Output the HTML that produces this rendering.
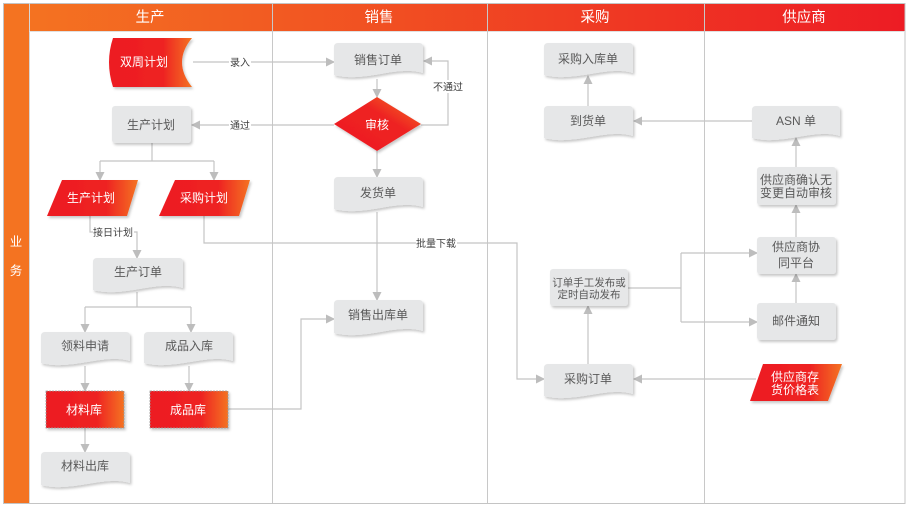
<!DOCTYPE html>
<html><head><meta charset="utf-8">
<style>
html,body{margin:0;padding:0;background:#fff;}
svg{display:block;}
text{font-family:"Liberation Sans","Noto Sans CJK SC",sans-serif;}
</style></head>
<body>
<svg width="910" height="509" viewBox="0 0 910 509" xmlns="http://www.w3.org/2000/svg">
<defs>
<linearGradient id="hg" x1="0" y1="0" x2="1" y2="0">
<stop offset="0" stop-color="#f47521"/><stop offset="1" stop-color="#ed1c24"/>
</linearGradient>
<linearGradient id="rg" x1="0" y1="0" x2="1" y2="0">
<stop offset="0" stop-color="#ed1c24"/><stop offset="0.65" stop-color="#ee2224"/><stop offset="1" stop-color="#f47321"/>
</linearGradient>
<linearGradient id="dg" x1="0" y1="1" x2="1" y2="0">
<stop offset="0" stop-color="#ed1c24"/><stop offset="0.6" stop-color="#ee2224"/><stop offset="1" stop-color="#f47321"/>
</linearGradient>
<filter id="sh" x="-10%" y="-10%" width="130%" height="140%">
<feDropShadow dx="1.5" dy="2" stdDeviation="1.2" flood-color="#000" flood-opacity="0.22"/>
</filter>
<marker id="a" markerWidth="10" markerHeight="10" refX="8" refY="5" orient="auto" markerUnits="userSpaceOnUse">
<path d="M0,0.5 L9,5 L0,9.5 Z" fill="#bdbdbd"/>
</marker>
</defs>

<!-- frame -->
<rect x="3" y="3" width="902" height="28" fill="url(#hg)"/>
<rect x="3" y="3" width="26" height="500" fill="#f47321"/>
<rect x="3.5" y="3.5" width="901.5" height="500" fill="none" stroke="#c4c4c4" stroke-width="1"/>
<line x1="29.5" y1="3" x2="29.5" y2="503" stroke="#d6d6d6" stroke-width="1"/>
<line x1="29" y1="31.5" x2="905" y2="31.5" stroke="#e0e0e0" stroke-width="1"/>
<line x1="272.5" y1="3" x2="272.5" y2="503" stroke="#c8c8c8" stroke-width="1"/>
<line x1="487.5" y1="3" x2="487.5" y2="503" stroke="#c8c8c8" stroke-width="1"/>
<line x1="704.5" y1="3" x2="704.5" y2="503" stroke="#c8c8c8" stroke-width="1"/>

<g fill="#fff" font-size="14.5" text-anchor="middle">
<text x="150" y="22">生产</text>
<text x="379" y="22">销售</text>
<text x="595" y="22">采购</text>
<text x="804" y="22">供应商</text>
<text x="16" y="246" font-size="12.5">业</text>
<text x="16" y="275" font-size="12.5">务</text>
</g>

<!-- connectors -->
<g fill="none" stroke="#c4c4c4" stroke-width="1.2">
<path d="M193,62 H334" marker-end="url(#a)"/>
<path d="M377,79 V97" marker-end="url(#a)"/>
<path d="M421,125 H448 V61 H424" marker-end="url(#a)"/>
<path d="M334,125 H192" marker-end="url(#a)"/>
<path d="M377,151 V177" marker-end="url(#a)"/>
<path d="M152,143 V161"/>
<path d="M100,161 H214"/>
<path d="M100,161 V180" marker-end="url(#a)"/>
<path d="M214,161 V180" marker-end="url(#a)"/>
<path d="M90,216 V232 H137 V258" marker-end="url(#a)"/>
<path d="M204,216 V243 H517 V379 H544" marker-end="url(#a)"/>
<path d="M377,212 V300" marker-end="url(#a)"/>
<path d="M137,292 V307"/>
<path d="M85,307 H191"/>
<path d="M85,307 V332" marker-end="url(#a)"/>
<path d="M191,307 V332" marker-end="url(#a)"/>
<path d="M85,366 V391" marker-end="url(#a)"/>
<path d="M189,366 V391" marker-end="url(#a)"/>
<path d="M85,428 V452" marker-end="url(#a)"/>
<path d="M228,409 H301 V319 H334" marker-end="url(#a)"/>
<path d="M588,106 V76" marker-end="url(#a)"/>
<path d="M752,121 H634" marker-end="url(#a)"/>
<path d="M796,167 V138" marker-end="url(#a)"/>
<path d="M796,237 V205" marker-end="url(#a)"/>
<path d="M796,303 V274" marker-end="url(#a)"/>
<path d="M628,288 H681"/>
<path d="M681,253 V322"/>
<path d="M681,253 H757" marker-end="url(#a)"/>
<path d="M681,322 H757" marker-end="url(#a)"/>
<path d="M588,364 V306" marker-end="url(#a)"/>
<path d="M756,379 H634" marker-end="url(#a)"/>
</g>

<!-- connector labels -->
<g font-size="10" fill="#404040" text-anchor="middle">
<rect x="229" y="55" width="22" height="13" fill="#fff"/><text x="240" y="66">录入</text>
<rect x="229" y="118" width="22" height="13" fill="#fff"/><text x="240" y="129">通过</text>
<rect x="432" y="80" width="32" height="13" fill="#fff"/><text x="448" y="90.5">不通过</text>
<rect x="93" y="226" width="41" height="13" fill="#fff"/><text x="113" y="236">接日计划</text>
<rect x="416" y="237" width="41" height="13" fill="#fff"/><text x="436" y="247">批量下载</text>
</g>

<!-- grey documents -->
<g fill="#e6e7e8" filter="url(#sh)">
<path d="M334,47 Q334,43 338,43 L419,43 Q423,43 423,47 L423,73 C396.3,65 365.2,83 334,75 Z"/>
<path d="M334,181 Q334,177 338,177 L419,177 Q423,177 423,181 L423,207 C396.3,199 365.2,217 334,209 Z"/>
<path d="M334,304 Q334,300 338,300 L419,300 Q423,300 423,304 L423,331 C396.3,323 365.2,341 334,333 Z"/>
<path d="M93,262 Q93,258 97,258 L179,258 Q183,258 183,262 L183,288 C156,280 124.5,298 93,290 Z"/>
<path d="M41,336 Q41,332 45,332 L126,332 Q130,332 130,336 L130,361 C103.3,353 72.2,371 41,363 Z"/>
<path d="M144,336 Q144,332 148,332 L229,332 Q233,332 233,336 L233,361 C206.3,353 175.2,371 144,363 Z"/>
<path d="M41,456 Q41,452 45,452 L126,452 Q130,452 130,456 L130,483 C103.3,475 72.2,493 41,485 Z"/>
<path d="M544,47 Q544,43 548,43 L629,43 Q633,43 633,47 L633,73 C606.3,65 575.2,83 544,75 Z"/>
<path d="M544,110 Q544,106 548,106 L629,106 Q633,106 633,110 L633,136 C606.3,128 575.2,146 544,138 Z"/>
<path d="M752,110 Q752,106 756,106 L836,106 Q840,106 840,110 L840,136 C813.6,128 782.8,146 752,138 Z"/>
<path d="M544,368 Q544,364 548,364 L629,364 Q633,364 633,368 L633,394 C606.3,386 575.2,404 544,396 Z"/>
<rect x="112" y="106" width="79" height="37" rx="3"/>
<rect x="757" y="167" width="79" height="38" rx="3"/>
<rect x="757" y="237" width="79" height="37" rx="3"/>
<rect x="757" y="303" width="79" height="37" rx="3"/>
<rect x="550" y="269" width="78" height="37" rx="3"/>
</g>

<!-- red shapes -->
<g filter="url(#sh)">
<path d="M113,38 L192,38 Q172,62 192,87 L113,87 Q105,62 113,38 Z" fill="url(#rg)"/>
<path d="M377,97 L421,124 L377,151 L334,124 Z" fill="url(#dg)"/>
<path d="M62,180 L138,180 L127,216 L47,216 Z" fill="url(#rg)"/>
<path d="M175,180 L250,180 L239,216 L159,216 Z" fill="url(#rg)"/>
<path d="M763,364 L842,364 L828,401 L750,401 Z" fill="url(#rg)"/>
<rect x="46" y="391" width="78" height="37" fill="url(#rg)" stroke="#9a9a9a" stroke-width="0.8" stroke-dasharray="2,1"/>
<rect x="150" y="391" width="78" height="37" fill="url(#rg)" stroke="#9a9a9a" stroke-width="0.8" stroke-dasharray="2,1"/>
</g>

<!-- node text -->
<g font-size="12" fill="#595959" text-anchor="middle">
<text x="378" y="64">销售订单</text>
<text x="378" y="197">发货单</text>
<text x="378" y="319">销售出库单</text>
<text x="138" y="276">生产订单</text>
<text x="85" y="350">领料申请</text>
<text x="189" y="350">成品入库</text>
<text x="85" y="470">材料出库</text>
<text x="588" y="63">采购入库单</text>
<text x="588" y="125">到货单</text>
<text x="796" y="125">ASN 单</text>
<text x="588" y="383">采购订单</text>
<text x="151" y="129">生产计划</text>
<text x="796" y="184">供应商确认无</text>
<text x="796" y="197">变更自动审核</text>
<text x="796" y="251">供应商协</text>
<text x="796" y="267">同平台</text>
<text x="796" y="325">邮件通知</text>
<text x="589" y="286" font-size="10.5">订单手工发布或</text>
<text x="589" y="298" font-size="10.5">定时自动发布</text>
</g>
<g font-size="12" fill="#fff" text-anchor="middle">
<text x="144" y="66">双周计划</text>
<text x="377" y="129">审核</text>
<text x="91" y="202">生产计划</text>
<text x="204" y="202">采购计划</text>
<text x="795" y="381">供应商存</text>
<text x="795" y="394">货价格表</text>
<text x="84" y="414">材料库</text>
<text x="188" y="414">成品库</text>
</g>
</svg>
</body></html>
